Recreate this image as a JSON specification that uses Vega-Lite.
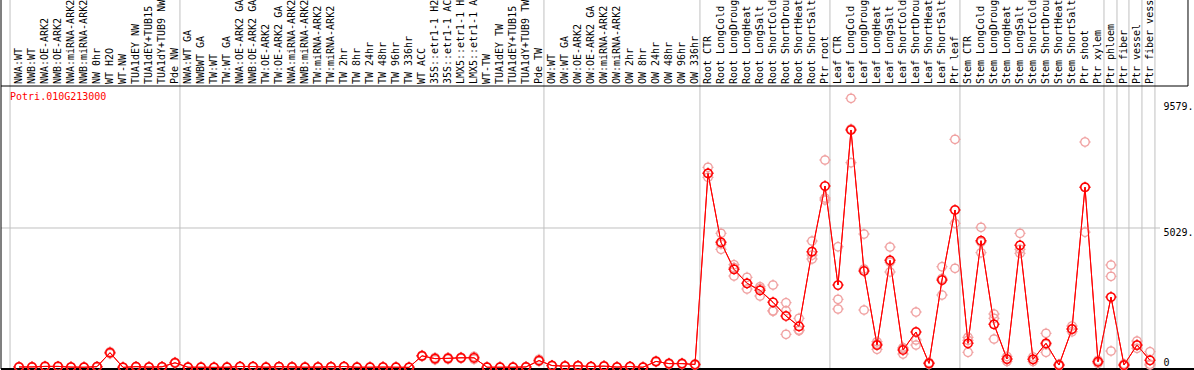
{
  "$schema": "https://vega.github.io/schema/vega-lite/v6.json",
  "autosize": {"type": "none"},
  "width": 1159,
  "height": 283,
  "padding": {"left": 1, "top": 86, "right": 34, "bottom": 1},
  "background": "white",
  "config": {
    "view": {"stroke": null},
    "axis": {"labelOverlap": false, "labelBound": false, "labelFlush": false, "grid": false, "ticks": false, "domain": false, "labelFont": "DejaVu Sans Mono", "labelFontSize": 10, "labelColor": "black"}
  },
  "datasets": {
    "means": [
      {"i":0,"name":"NWA:WT","v":20},{"i":1,"name":"NWB:WT","v":20},{"i":2,"name":"NWA:OE-ARK2","v":40},{"i":3,"name":"NWB:OE-ARK2","v":40},{"i":4,"name":"NWA:miRNA-ARK2","v":15},
      {"i":5,"name":"NWB:miRNA-ARK2","v":10},{"i":6,"name":"NW 0hr","v":30},{"i":7,"name":"WT H2O","v":534},{"i":8,"name":"WT-NW","v":5},{"i":9,"name":"TUA1dEY NW","v":30},
      {"i":10,"name":"TUA1dEY+TUB15","v":15},{"i":11,"name":"TUA1dY+TUB9 NW","v":25},{"i":12,"name":"Pde NW","v":170},{"i":13,"name":"NWA:WT GA","v":10},{"i":14,"name":"NWBWT GA","v":10},
      {"i":15,"name":"TW:WT","v":5},{"i":16,"name":"TW:WT GA","v":10},{"i":17,"name":"NWA:OE-ARK2 GA","v":35},{"i":18,"name":"NWB:OE-ARK2 GA","v":35},{"i":19,"name":"TW:OE-ARK2","v":10},
      {"i":20,"name":"TW:OE-ARK2 GA","v":30},{"i":21,"name":"NWA:miRNA-ARK2","v":20},{"i":22,"name":"NWB:miRNA-ARK2","v":10},{"i":23,"name":"TW:miRNA-ARK2","v":15},{"i":24,"name":"TW:miRNA-ARK2","v":25},
      {"i":25,"name":"TW 2hr","v":35},{"i":26,"name":"TW 8hr","v":10},{"i":27,"name":"TW 24hr","v":10},{"i":28,"name":"TW 48hr","v":15},{"i":29,"name":"TW 96hr","v":10},
      {"i":30,"name":"TW 336hr","v":5},{"i":31,"name":"WT ACC","v":420},{"i":32,"name":"35S::etr1-1 H2","v":320},{"i":33,"name":"35S::etr1-1 AC","v":330},{"i":34,"name":"LMX5::etr1-1 H","v":350},
      {"i":35,"name":"LMX5::etr1-1 A","v":350},{"i":36,"name":"WT-TW","v":10},{"i":37,"name":"TUA1dEY TW","v":10},{"i":38,"name":"TUA1dEY+TUB15","v":10},{"i":39,"name":"TUA1dY+TUB9 TW","v":20},
      {"i":40,"name":"Pde TW","v":250},{"i":41,"name":"OW:WT","v":70},{"i":42,"name":"OW:WT GA","v":50},{"i":43,"name":"OW:OE-ARK2","v":60},{"i":44,"name":"OW:OE-ARK2 GA","v":35},
      {"i":45,"name":"OW:miRNA-ARK2","v":50},{"i":46,"name":"OW:miRNA-ARK2","v":15},{"i":47,"name":"OW 2hr","v":35},{"i":48,"name":"OW 8hr","v":10},{"i":49,"name":"OW 24hr","v":220},
      {"i":50,"name":"OW 48hr","v":140},{"i":51,"name":"OW 96hr","v":140},{"i":52,"name":"OW 336hr","v":110},{"i":53,"name":"Root CTR","v":7001},{"i":54,"name":"Root LongCold","v":4513},
      {"i":55,"name":"Root LongDroug","v":3540},{"i":56,"name":"Root LongHeat","v":3035},{"i":57,"name":"Root LongSalt","v":2782},{"i":58,"name":"Root ShortCold","v":2350},{"i":59,"name":"Root ShortDrou","v":1857},
      {"i":60,"name":"Root ShortHeat","v":1484},{"i":61,"name":"Root ShortSalt","v":4176},{"i":62,"name":"Ptr root","v":6543},{"i":63,"name":"Leaf CTR","v":2974},{"i":64,"name":"Leaf LongCold","v":8562},
      {"i":65,"name":"Leaf LongDroug","v":3479},{"i":66,"name":"Leaf LongHeat","v":811},{"i":67,"name":"Leaf LongSalt","v":3864},{"i":68,"name":"Leaf ShortCold","v":631},{"i":69,"name":"Leaf ShortDrou","v":1280},
      {"i":70,"name":"Leaf ShortHeat","v":150},{"i":71,"name":"Leaf ShortSalt","v":3154},{"i":72,"name":"Ptr leaf","v":5678},{"i":73,"name":"Stem CTR","v":872},{"i":74,"name":"Stem LongCold","v":4571},
      {"i":75,"name":"Stem LongDroug","v":1556},{"i":76,"name":"Stem LongHeat","v":306},{"i":77,"name":"Stem LongSalt","v":4405},{"i":78,"name":"Stem ShortCold","v":295},{"i":79,"name":"Stem ShortDrou","v":872},
      {"i":80,"name":"Stem ShortHeat","v":90},{"i":81,"name":"Stem ShortSalt","v":1388},{"i":82,"name":"Ptr shoot","v":6500},{"i":83,"name":"Ptr xylem","v":209},{"i":84,"name":"Ptr phloem","v":2541},
      {"i":85,"name":"Ptr fiber","v":90},{"i":86,"name":"Ptr vessel","v":811},{"i":87,"name":"Ptr fiber vess","v":260}
    ],
    "reps": [
      {"i":0,"v":10},{"i":0,"v":30},{"i":1,"v":15},{"i":1,"v":25},{"i":2,"v":30},{"i":2,"v":50},{"i":3,"v":35},{"i":3,"v":45},{"i":4,"v":10},{"i":4,"v":20},
      {"i":5,"v":5},{"i":5,"v":15},{"i":6,"v":20},{"i":6,"v":40},{"i":7,"v":500},{"i":7,"v":570},{"i":8,"v":0},{"i":8,"v":10},{"i":9,"v":20},{"i":9,"v":40},
      {"i":10,"v":10},{"i":10,"v":20},{"i":11,"v":20},{"i":11,"v":30},{"i":12,"v":150},{"i":12,"v":190},{"i":13,"v":5},{"i":13,"v":15},{"i":14,"v":5},{"i":14,"v":15},
      {"i":15,"v":0},{"i":15,"v":10},{"i":16,"v":5},{"i":16,"v":15},{"i":17,"v":30},{"i":17,"v":40},{"i":18,"v":30},{"i":18,"v":40},{"i":19,"v":5},{"i":19,"v":15},
      {"i":20,"v":25},{"i":20,"v":35},{"i":21,"v":15},{"i":21,"v":25},{"i":22,"v":5},{"i":22,"v":15},{"i":23,"v":10},{"i":23,"v":20},{"i":24,"v":20},{"i":24,"v":30},
      {"i":25,"v":30},{"i":25,"v":40},{"i":26,"v":5},{"i":26,"v":15},{"i":27,"v":5},{"i":27,"v":15},{"i":28,"v":10},{"i":28,"v":20},{"i":29,"v":5},{"i":29,"v":15},
      {"i":30,"v":0},{"i":30,"v":10},{"i":31,"v":400},{"i":31,"v":440},{"i":32,"v":280},{"i":32,"v":360},{"i":33,"v":300},{"i":33,"v":360},{"i":34,"v":330},{"i":34,"v":370},
      {"i":35,"v":300},{"i":35,"v":400},{"i":36,"v":5},{"i":36,"v":15},{"i":37,"v":5},{"i":37,"v":15},{"i":38,"v":5},{"i":38,"v":15},{"i":39,"v":15},{"i":39,"v":25},
      {"i":40,"v":220},{"i":40,"v":300},{"i":41,"v":60},{"i":41,"v":80},{"i":42,"v":40},{"i":42,"v":60},{"i":43,"v":50},{"i":43,"v":70},{"i":44,"v":30},{"i":44,"v":40},
      {"i":45,"v":40},{"i":45,"v":60},{"i":46,"v":10},{"i":46,"v":20},{"i":47,"v":30},{"i":47,"v":40},{"i":48,"v":5},{"i":48,"v":15},{"i":49,"v":200},{"i":49,"v":240},
      {"i":50,"v":120},{"i":50,"v":160},{"i":51,"v":120},{"i":51,"v":160},{"i":52,"v":90},{"i":52,"v":130},
      {"i":53,"v":7217},{"i":53,"v":6857},{"i":53,"v":7000},
      {"i":54,"v":4838},{"i":54,"v":4261},{"i":54,"v":4450},
      {"i":55,"v":3706},{"i":55,"v":3298},{"i":55,"v":3600},
      {"i":56,"v":3251},{"i":56,"v":2830},{"i":56,"v":3030},
      {"i":57,"v":2914},{"i":57,"v":2577},{"i":57,"v":2850},
      {"i":58,"v":2974},{"i":58,"v":2048},{"i":58,"v":2030},
      {"i":59,"v":2337},{"i":59,"v":2048},{"i":59,"v":1196},
      {"i":60,"v":1773},{"i":60,"v":1352},{"i":60,"v":1330},
      {"i":61,"v":4560},{"i":61,"v":3911},{"i":61,"v":4050},
      {"i":62,"v":7480},{"i":62,"v":6038},{"i":62,"v":6110},
      {"i":63,"v":4355},{"i":63,"v":2459},{"i":63,"v":2109},
      {"i":64,"v":9704},{"i":64,"v":7383},{"i":64,"v":8600},
      {"i":65,"v":4813},{"i":65,"v":2073},{"i":65,"v":3550},
      {"i":66,"v":931},{"i":66,"v":656},{"i":66,"v":850},
      {"i":67,"v":4344},{"i":67,"v":3443},{"i":67,"v":3800},
      {"i":68,"v":714},{"i":68,"v":487},{"i":68,"v":690},
      {"i":69,"v":2001},{"i":69,"v":991},{"i":69,"v":811},
      {"i":70,"v":180},{"i":70,"v":120},{"i":70,"v":150},
      {"i":71,"v":3634},{"i":71,"v":2614},{"i":71,"v":3210},
      {"i":72,"v":8226},{"i":72,"v":5198},{"i":72,"v":3576},
      {"i":73,"v":1089},{"i":73,"v":548},{"i":73,"v":980},
      {"i":74,"v":5054},{"i":74,"v":4139},{"i":74,"v":4520},
      {"i":75,"v":1929},{"i":75,"v":1773},{"i":75,"v":1027},
      {"i":76,"v":400},{"i":76,"v":220},{"i":76,"v":300},
      {"i":77,"v":4838},{"i":77,"v":4117},{"i":77,"v":4260},
      {"i":78,"v":380},{"i":78,"v":220},{"i":78,"v":290},
      {"i":79,"v":1233},{"i":79,"v":548},{"i":79,"v":830},
      {"i":80,"v":120},{"i":80,"v":60},{"i":80,"v":90},
      {"i":81,"v":1496},{"i":81,"v":1291},{"i":81,"v":1380},
      {"i":82,"v":8130},{"i":82,"v":4880},{"i":82,"v":6490},
      {"i":83,"v":260},{"i":83,"v":150},{"i":83,"v":210},
      {"i":84,"v":3695},{"i":84,"v":3288},{"i":84,"v":595},
      {"i":85,"v":130},{"i":85,"v":60},{"i":85,"v":90},
      {"i":86,"v":955},{"i":86,"v":692},{"i":86,"v":800},
      {"i":87,"v":570},{"i":87,"v":90},{"i":87,"v":120}
    ],
    "groupLines": [
      {"b":-0.69},{"b":12.38},{"b":40.38},{"b":52.38},{"b":62.38},{"b":72.38},{"b":83.46},{"b":84.46},{"b":85.38},{"b":86.38},{"b":87.38}
    ],
    "gene": [{"name": "Potri.010G213000"}]
  },
  "layer": [
    {
      "data": {"name": "means"},
      "mark": {"type": "line", "color": "#ff0000", "strokeWidth": 1},
      "encoding": {
        "x": {
          "field": "i", "type": "quantitative", "axis": null,
          "scale": {"domain": [-1.384615, 87.769231], "nice": false, "zero": false}
        },
        "y": {
          "field": "v", "type": "quantitative",
          "scale": {"domain": [-54, 10148], "nice": false, "zero": false},
          "axis": {
            "orient": "right", "title": null, "values": [0, 5029, 9579],
            "labelExpr": "datum.value == 0 ? '0' : datum.value + '.'",
            "labelFont": "DejaVu Sans Mono", "labelFontSize": 10, "labelColor": "black",
            "labelAlign": "left",
            "labelBaseline": {"condition": {"test": "datum.value == 0", "value": "bottom"}, "value": "top"},
            "labelPadding": 3, "labelOverlap": false, "labelBound": false, "labelFlush": false,
            "ticks": false, "tickSize": 0, "domain": false, "grid": false
          }
        }
      }
    },
    {
      "data": {"name": "groupLines"},
      "mark": {"type": "rule", "color": "#c0c0c0", "strokeWidth": 1},
      "encoding": {
        "x": {"field": "b", "type": "quantitative", "axis": null},
        "y": {"datum": -54},
        "y2": {"datum": 13300}
      }
    },
    {
      "data": {"values": [{"g": 5029}]},
      "mark": {"type": "rule", "color": "#c0c0c0", "strokeWidth": 1},
      "encoding": {
        "y": {"field": "g", "type": "quantitative", "title": null},
        "x": {"datum": -1.384615, "axis": null},
        "x2": {"datum": 87.769231}
      }
    },
    {
      "data": {"values": [{"x": -1.384615, "x2": -1.384615, "y": -54, "y2": 13300}, {"x": 89.923, "x2": 89.923, "y": 10148, "y2": 13300}, {"x": -1.384615, "x2": 89.923, "y": 10148, "y2": 10148}]},
      "mark": {"type": "rule", "color": "black", "strokeWidth": 1},
      "encoding": {
        "x": {"field": "x", "type": "quantitative", "axis": null},
        "x2": {"field": "x2"},
        "y": {"field": "y", "type": "quantitative", "title": null},
        "y2": {"field": "y2"}
      }
    },
    {
      "data": {"values": [{"x": -1.384615, "x2": 90.5, "y": -54}]},
      "mark": {"type": "rule", "color": "black", "strokeWidth": 2},
      "encoding": {
        "x": {"field": "x", "type": "quantitative", "axis": null},
        "x2": {"field": "x2"},
        "y": {"field": "y", "type": "quantitative", "title": null}
      }
    },
    {
      "data": {"name": "means"},
      "mark": {"type": "text", "angle": 270, "align": "left", "baseline": "middle", "font": "DejaVu Sans Mono", "fontSize": 10, "color": "black"},
      "encoding": {
        "text": {"field": "name"},
        "x": {"field": "i", "type": "quantitative", "axis": null},
        "y": {"datum": 10217}
      }
    },
    {
      "data": {"name": "reps"},
      "mark": {"type": "point", "shape": "M1,0L0.924,0.383L0.707,0.707L0.383,0.924L0,1L-0.383,0.924L-0.707,0.707L-0.924,0.383L-1,0L-0.924,-0.383L-0.707,-0.707L-0.383,-0.924L0,-1L0.383,-0.924L0.707,-0.707L0.924,-0.383ZM0,-1L0,-1.3M0,1L0,1.3M-1,0L-1.3,0M1,0L1.3,0", "size": 72, "filled": false, "color": "#f0a0a0", "strokeWidth": 1.3, "opacity": 1},
      "encoding": {
        "x": {"field": "i", "type": "quantitative", "axis": null},
        "y": {"field": "v", "type": "quantitative"}
      }
    },
    {
      "data": {"name": "means"},
      "mark": {"type": "line", "color": "#ff0000", "strokeWidth": 1},
      "encoding": {
        "x": {"field": "i", "type": "quantitative", "axis": null},
        "y": {"field": "v", "type": "quantitative"}
      }
    },
    {
      "data": {"name": "means"},
      "mark": {"type": "point", "shape": "M1,0L0.924,0.383L0.707,0.707L0.383,0.924L0,1L-0.383,0.924L-0.707,0.707L-0.924,0.383L-1,0L-0.924,-0.383L-0.707,-0.707L-0.383,-0.924L0,-1L0.383,-0.924L0.707,-0.707L0.924,-0.383ZM0,-1L0,-1.3M0,1L0,1.3M-1,0L-1.3,0M1,0L1.3,0", "size": 72, "filled": false, "color": "#ff0000", "strokeWidth": 1.5, "opacity": 1},
      "encoding": {
        "x": {"field": "i", "type": "quantitative", "axis": null},
        "y": {"field": "v", "type": "quantitative"}
      }
    },
    {
      "data": {"name": "gene"},
      "mark": {"type": "text", "color": "#ff0000", "font": "DejaVu Sans Mono", "fontSize": 10, "align": "left", "baseline": "middle"},
      "encoding": {
        "text": {"field": "name"},
        "x": {"datum": -0.69, "axis": null},
        "y": {"datum": 9751}
      }
    }
  ]
}
